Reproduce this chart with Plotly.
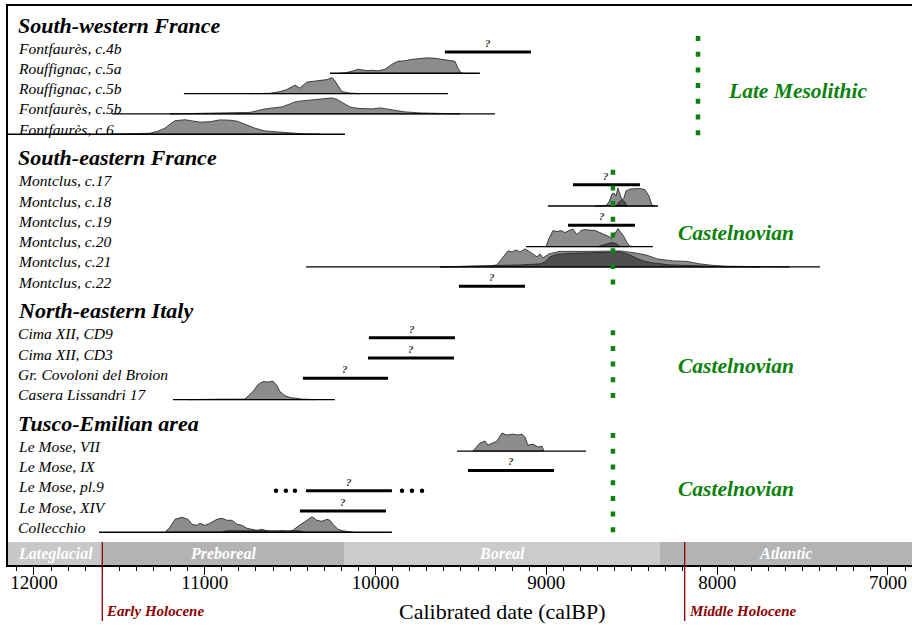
import plotly.graph_objects as go

# ---------------- data (calBP) ----------------
group_names = ["South-western France", "South-eastern France",
               "North-eastern Italy", "Tusco-Emilian area"]
group_culture = ["Late Mesolithic", "Castelnovian", "Castelnovian", "Castelnovian"]
culture_limit = [8112, 8610, 8610, 8610]
culture_label_x = [7527, 7890, 7890, 7890]

period_names = ["Lateglacial", "Preboreal", "Boreal", "Atlantic"]
period_limits = [11600, 10185, 8335]
period_colors = ["#c8c8c8", "#b3b3b3", "#cbcbcb", "#b3b3b3"]
holocene_names = ["Early Holocene", "Middle Holocene"]
holocene_limits = [11600, 8190]

x_ticks = [12000, 11000, 10000, 9000, 8000, 7000]

# South-western France
f4b_bar = [9594, 9090]
r5a_span = [10267, 9389]
r5a_yr = [10208, 10179, 10138, 10103, 10080, 10050, 10021, 9986, 9945, 9904,
          9869, 9828, 9787, 9740, 9693, 9652, 9611, 9564, 9535, 9517, 9500, 9490]
r5a_p = [0, 0.5, 2, 4, 3.5, 2.5, 3, 2.5, 4, 9,
         12, 12.5, 14, 15, 15.5, 15, 14, 13, 12, 5, 0.5, 0]
r5b_span = [11122, 9576]
r5b_yr = [10735, 10618, 10560, 10519, 10489, 10472, 10443, 10402, 10355, 10325,
          10284, 10255, 10243, 10220, 10197, 10150, 10091]
r5b_p = [0, 0.3, 2, 4, 7, 8.5, 5.5, 11.5, 12.5, 13, 14, 16, 14, 8, 2, 0.5, 0]
f5b_span = [11543, 9301]
f5b_yr = [11204, 11028, 10735, 10648, 10589, 10548, 10501, 10472, 10431, 10384,
          10325, 10255, 10226, 10191, 10150, 10103, 10062, 10021, 9974, 9933,
          9886, 9828, 9740, 9623, 9506]
f5b_p = [0, 0.3, 1.5, 5, 6, 7, 10, 12, 13, 14, 15, 16, 14.5, 11, 7, 5.5, 5.5, 5, 6, 5,
         3.5, 2, 1, 0.3, 0]
f6_span = [12182, 10179]
f6_yr = [11555, 11438, 11321, 11274, 11233, 11204, 11174, 11116, 11069, 11028,
         10970, 10911, 10852, 10811, 10765, 10706, 10648, 10589, 10501, 10413, 10325]
f6_p = [0, 0.3, 1, 3, 6, 10, 13.5, 14.5, 13, 12, 12.5, 14.3, 14, 13, 10, 6, 3.3, 2.5,
        0.8, 0.2, 0]

# South-eastern France (Montclus)
m17_bar = [8844, 8452]
m18_span = [8991, 8346]
m18_yr = [8715, 8651, 8633, 8616, 8604, 8592, 8581, 8569, 8557, 8546, 8534, 8510,
          8452, 8423, 8399, 8382, 8364]
m18_p = [0, 0.5, 4, 12, 13, 10, 18, 12, 6, 8, 15, 17, 17.5, 16.5, 10, 1, 0]
m18_dark_yr = [8592, 8575, 8557, 8540, 8528]
m18_dark_p = [0, 4, 6, 4, 0]
m19_bar = [8873, 8481]
m20_span = [9119, 8376]
m20_yr = [9002, 8985, 8961, 8938, 8914, 8891, 8868, 8844, 8821, 8797, 8774, 8745,
          8715, 8686, 8657, 8633, 8616, 8598, 8581, 8563, 8546, 8528, 8510, 8493]
m20_p = [0, 8, 16, 15, 16, 14, 16, 17.5, 12, 16, 17, 16.5, 16, 14, 12, 10, 8, 13, 18,
         14, 10, 4, 0.5, 0]
m20_dark_yr = [8698, 8651, 8616, 8592, 8569]
m20_dark_p = [0, 2, 4, 3, 0]
m21_span = [10407, 7398]
m21_yr = [9623, 9523, 9330, 9289, 9254, 9225, 9201, 9178, 9154, 9125, 9096, 9072,
          9055, 9037, 9020, 9002, 8985, 8961, 8920, 8745, 8569, 8481, 8411, 8352,
          8259, 8177, 8101, 8024, 7942, 7749, 7574]
m21_p = [0, 0.3, 1, 2, 10, 16, 15, 17, 15, 18, 15, 12, 10, 13, 9, 11, 13, 14, 15.5,
         15.5, 16, 14, 11.7, 8, 6, 5.5, 3, 1.5, 0.7, 0.2, 0]
m21_dark_yr = [9623, 9523, 9389, 9289, 9154, 9037, 9008, 8979, 8938, 8862, 8745,
               8628, 8569, 8510, 8469, 8423, 8376, 8276, 8142, 7983, 7749]
m21_dark_p = [0, 0.3, 0.8, 1.5, 2, 3, 5, 10, 12.5, 13.5, 14, 14.5, 15, 12, 8.3, 5.5,
              4, 2, 1, 0.3, 0]
m22_bar = [9512, 9125]

# North-eastern Italy
cd9_bar = [10039, 9535]
cd3_bar = [10044, 9541]
cov_bar = [10425, 9927]
cas_span = [11186, 10238]
cas_yr = [11100, 11028, 10900, 10765, 10718, 10688, 10659, 10630, 10601, 10577,
          10560, 10530, 10501, 10431, 10355]
cas_p = [0, 0.4, 0.4, 0.5, 8, 15, 18, 17.5, 18.5, 14, 8, 4, 2, 0.5, 0]

# Tusco-Emilian area
lm7_span = [9523, 8768]
lm7_yr = [9430, 9389, 9359, 9342, 9289, 9260, 9231, 9195, 9166, 9143, 9125, 9108,
          9078, 9049, 9026, 9014]
lm7_p = [0, 8, 10, 6, 10, 18, 16, 17, 16, 17, 14, 6, 7, 4, 5, 0]
lm9_bar = [9459, 8955]
lmpl9_bar = [10407, 9904]
lmpl9_dots = [10583, 10525, 10472, 9845, 9787, 9728]
lm14_bar = [10443, 9939]
col_span = [11619, 9904]
col_yr = [11233, 11204, 11174, 11133, 11098, 11075, 11046, 11028, 10999, 10970,
          10929, 10899, 10870, 10841, 10811, 10782, 10753, 10724, 10694, 10665,
          10636, 10601, 10542, 10513, 10484, 10454, 10413, 10372, 10343, 10314,
          10284, 10267, 10249, 10220, 10191, 10162, 10132]
col_p = [0, 5, 13, 15, 13, 8, 7, 9, 7, 9, 13, 14, 12, 12, 8, 7, 4, 3, 2, 3,
         1.5, 0.5, 1.5, 0.5, 2, 6, 11, 15.5, 12, 11, 13, 12, 8, 3, 1.5, 0.5, 0]
col_dark_yr = [10899, 10876, 10443, 10419]
col_dark_p = [0, 1.5, 1.5, 0]

rows = [
    [dict(label="Fontfaurès, c.4b", bar=f4b_bar),
     dict(label="Rouffignac, c.5a", span=r5a_span, light=(r5a_yr, r5a_p)),
     dict(label="Rouffignac, c.5b", span=r5b_span, light=(r5b_yr, r5b_p)),
     dict(label="Fontfaurès, c.5b", span=f5b_span, light=(f5b_yr, f5b_p)),
     dict(label="Fontfaurès, c.6", span=f6_span, light=(f6_yr, f6_p))],
    [dict(label="Montclus, c.17", bar=m17_bar),
     dict(label="Montclus, c.18", span=m18_span, light=(m18_yr, m18_p),
          dark=(m18_dark_yr, m18_dark_p)),
     dict(label="Montclus, c.19", bar=m19_bar),
     dict(label="Montclus, c.20", span=m20_span, light=(m20_yr, m20_p),
          dark=(m20_dark_yr, m20_dark_p)),
     dict(label="Montclus, c.21", span=m21_span, light=(m21_yr, m21_p),
          dark=(m21_dark_yr, m21_dark_p)),
     dict(label="Montclus, c.22", bar=m22_bar)],
    [dict(label="Cima XII, CD9", bar=cd9_bar),
     dict(label="Cima XII, CD3", bar=cd3_bar),
     dict(label="Gr. Covoloni del Broion", bar=cov_bar),
     dict(label="Casera Lissandri 17", span=cas_span, light=(cas_yr, cas_p))],
    [dict(label="Le Mose, VII", span=lm7_span, light=(lm7_yr, lm7_p)),
     dict(label="Le Mose, IX", bar=lm9_bar),
     dict(label="Le Mose, pl.9", bar=lmpl9_bar, dots=lmpl9_dots),
     dict(label="Le Mose, XIV", bar=lm14_bar),
     dict(label="Collecchio", span=col_span, light=(col_yr, col_p),
          dark=(col_dark_yr, col_dark_p))],
]

# ---------------- layout constants ----------------
W, H = 912, 627
ML, MR, MT, MB = 8, 0, 6, 62
TOP, BOTTOM = MT, H - MB
PLOT_H = BOTTOM - TOP
PLOT_W = W - ML - MR
X_LEFT, X_RIGHT = 12152, 6859
ROW = 20.3
GAP = 51.5
FIRST = 53.0
DENS = 1.0
GREEN_OFF = [(-17, 4), (-16, 2), (-8.5, 2), (-18, 5)]
BAND_TOP = 542
FONT = "Liberation Serif"
LIGHT, DARK, GREEN, RED = "#8c8c8c", "#4f4f4f", "#0a820a", "#8b0000"
LABEL_X = (16 - ML) / PLOT_W


def paper_x(year):
    return (X_LEFT - year) / (X_LEFT - X_RIGHT)


def paper_y(py):
    return (BOTTOM - py) / PLOT_H


fig = go.Figure()
ann = []
shapes = []


def density(yr, p, b, color):
    xs = list(yr) + list(yr[::-1])
    ys = [b - v * DENS for v in p] + [b] * len(yr)
    fig.add_trace(go.Scatter(x=xs, y=ys, mode="lines", fill="toself", fillcolor=color,
                             line=dict(color="#1e1e1e", width=0.8),
                             hoverinfo="skip", showlegend=False))


base = FIRST
for gi, (gname, grows) in enumerate(zip(group_names, rows)):
    bases = [base + i * ROW for i in range(len(grows))]
    ann.append(dict(xref="paper", yref="y", x=LABEL_X, y=bases[0] - 28,
                    text=f"<b><i>{gname}</i></b>", showarrow=False, xanchor="left",
                    yanchor="middle", font=dict(family=FONT, size=22, color="black")))
    for r, b in zip(grows, bases):
        ann.append(dict(xref="paper", yref="y", x=LABEL_X, y=b - 5,
                        text=f"<i>{r['label']}</i>", showarrow=False, xanchor="left",
                        yanchor="middle", font=dict(family=FONT, size=15.6, color="black")))
        if "light" in r:
            density(r["light"][0], r["light"][1], b, LIGHT)
        if "dark" in r:
            density(r["dark"][0], r["dark"][1], b, DARK)
        if "span" in r:
            fig.add_trace(go.Scatter(x=r["span"], y=[b, b], mode="lines",
                                     line=dict(color="black", width=1.4),
                                     hoverinfo="skip", showlegend=False))
        if "bar" in r:
            fig.add_trace(go.Scatter(x=r["bar"], y=[b - 1, b - 1], mode="lines",
                                     line=dict(color="black", width=3),
                                     hoverinfo="skip", showlegend=False))
            ann.append(dict(xref="x", yref="y", x=sum(r["bar"]) / 2, y=b - 10,
                            text="<b><i>?</i></b>", showarrow=False,
                            xanchor="center", yanchor="middle",
                            font=dict(family=FONT, size=11, color="#333333")))
        if "dots" in r:
            fig.add_trace(go.Scatter(x=r["dots"], y=[b - 1] * len(r["dots"]),
                                     mode="markers", marker=dict(color="black", size=4.5),
                                     hoverinfo="skip", showlegend=False))
    t_off, b_off = GREEN_OFF[gi]
    fig.add_trace(go.Scatter(x=[culture_limit[gi]] * 2,
                             y=[bases[0] + t_off, bases[-1] + b_off], mode="lines",
                             line=dict(color=GREEN, width=4.5, dash="5px,10.7px"),
                             hoverinfo="skip", showlegend=False))
    ann.append(dict(xref="x", yref="y", x=culture_label_x[gi],
                    y=(bases[0] + bases[-1]) / 2 - 3,
                    text=f"<b><i>{group_culture[gi]}</i></b>", showarrow=False,
                    xanchor="center", yanchor="middle",
                    font=dict(family=FONT, size=21.5, color=GREEN)))
    base = bases[-1] + GAP

# climatic periods band
edges = [X_LEFT] + period_limits + [X_RIGHT]
for name, col, x0, x1 in zip(period_names, period_colors, edges[:-1], edges[1:]):
    shapes.append(dict(type="rect", xref="x", yref="y", x0=x0, x1=x1,
                       y0=BAND_TOP, y1=BOTTOM, fillcolor=col, line=dict(width=0),
                       layer="below"))
    ann.append(dict(xref="x", yref="y", x=(x0 + x1) / 2, y=(BAND_TOP + BOTTOM) / 2,
                    text=f"<b><i>{name}</i></b>", showarrow=False,
                    xanchor="center", yanchor="middle",
                    font=dict(family=FONT, size=16, color="white")))

for name, lim in zip(holocene_names, holocene_limits):
    shapes.append(dict(type="line", xref="paper", yref="paper", x0=paper_x(lim),
                       x1=paper_x(lim), y0=paper_y(BAND_TOP), y1=paper_y(621),
                       line=dict(color=RED, width=1.3)))
    ann.append(dict(xref="x", yref="paper", x=lim, y=paper_y(611), xanchor="left",
                    yanchor="middle", xshift=2, text=f"<b><i>{name}</i></b>",
                    showarrow=False, font=dict(family=FONT, size=15, color=RED)))

ann.append(dict(xref="paper", yref="paper", x=paper_x(9260), y=paper_y(611),
                xanchor="center", yanchor="middle",
                text="Calibrated date (calBP)", showarrow=False,
                font=dict(family=FONT, size=22, color="black")))

fig.update_layout(
    width=W, height=H, margin=dict(l=ML, r=MR, t=MT, b=MB, autoexpand=False),
    plot_bgcolor="white", paper_bgcolor="white", showlegend=False,
    annotations=ann, shapes=shapes,
    xaxis=dict(range=[X_LEFT, X_RIGHT], tickvals=x_ticks, ticktext=[str(t) for t in x_ticks],
               ticks="outside", ticklen=8, tickwidth=1.3, tickcolor="black",
               ticklabelstandoff=-9,
               minor=dict(dtick=100, tick0=0, ticks="outside", ticklen=4, tickwidth=1,
                          tickcolor="black"),
               showline=True, mirror=True, linecolor="black", linewidth=1.5,
               showgrid=False, zeroline=False, automargin=False,
               tickfont=dict(family=FONT, size=19, color="black")),
    yaxis=dict(range=[BOTTOM, TOP], showticklabels=False, ticks="", showgrid=False,
               zeroline=False, showline=True, mirror=True, linecolor="black",
               linewidth=1.5, automargin=False),
)

fig.write_html("out.html", config={"displayModeBar": False},
               post_script="document.body.style.margin='0';"
                           "document.body.style.overflow='hidden';")
